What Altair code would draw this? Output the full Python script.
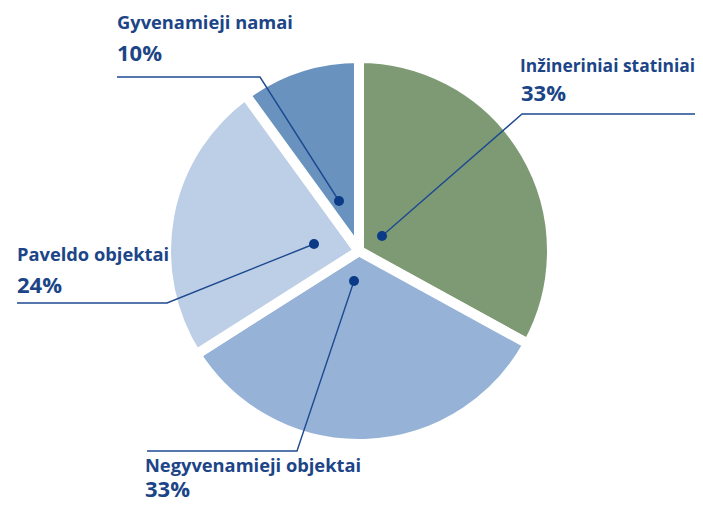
import altair as alt
import pandas as pd

# ---- data ----
labels = ["Inžineriniai statiniai", "Negyvenamieji objektai", "Paveldo objektai", "Gyvenamieji namai"]
shares = [33, 33, 24, 10]
pct_text = ["33%", "33%", "24%", "10%"]
colors = ["#7E9A74", "#96B3D7", "#BDCFE6", "#6A92BF"]

# ---- layout (page pixels) ----
OFF = 8
W, H = 687, 495
CX, CY, R = 359, 251, 193
name_pos = [(520, 72), (145, 472), (17, 261), (117, 29)]
name_size = [17.4, 18.3, 18.3, 18.3]
pct_pos = [(521, 101), (145, 497), (17, 293), (117, 61)]
leaders = [
    [(703, 114), (522, 114), (382, 236)],
    [(147, 451), (297, 451), (354, 281)],
    [(17, 303), (167, 303), (314, 244)],
    [(117, 77), (260, 77), (339, 201)],
]
TEXT_C = "#1C4587"
LINE_C = "#1D4A91"
FONT = "Open Sans"

pie_df = pd.DataFrame({"label": labels, "value": shares, "idx": list(range(len(labels)))})

text_rows = []
for i, lab in enumerate(labels):
    text_rows.append({"t": lab, "px": name_pos[i][0] - OFF, "py": name_pos[i][1] - OFF,
                      "kind": "name", "fs": name_size[i]})
    text_rows.append({"t": pct_text[i], "px": pct_pos[i][0] - OFF, "py": pct_pos[i][1] - OFF,
                      "kind": "pct", "fs": 22})
text_df = pd.DataFrame(text_rows)

line_rows = []
for i, pts in enumerate(leaders):
    for j, (x, y) in enumerate(pts):
        line_rows.append({"label": labels[i], "o": j, "px": x - OFF, "py": y - OFF})
line_df = pd.DataFrame(line_rows)
dot_df = line_df[line_df["o"] == 2]

pie = alt.Chart(pie_df).mark_arc(
    outerRadius=R, stroke="white", strokeWidth=10, strokeJoin="bevel"
).encode(
    theta=alt.Theta("value:Q", stack=True),
    order=alt.Order("idx:Q"),
    color=alt.Color("label:N", scale=alt.Scale(domain=labels, range=colors), legend=None),
    x=alt.value(CX - OFF),
    y=alt.value(CY - OFF),
)

xs = alt.X("px:Q", scale=None, axis=None)
ys = alt.Y("py:Q", scale=None, axis=None)

lines = alt.Chart(line_df).mark_line(color=LINE_C, strokeWidth=1.4).encode(
    x=xs, y=ys, detail="label:N", order="o:Q"
)
dots = alt.Chart(dot_df).mark_circle(color="#0B3A86", opacity=1, size=100).encode(x=xs, y=ys)

texts = alt.Chart(text_df).mark_text(
    align="left", baseline="alphabetic", font=FONT, fontWeight="bold", color=TEXT_C
).encode(x=xs, y=ys, text="t:N", size=alt.Size("fs:Q", scale=None, legend=None))

chart = alt.layer(pie, lines, dots, texts).properties(
    width=W, height=H, padding=0, autosize="none"
).configure_view(stroke=None)

chart.save("out.html", embed_options={"renderer": "svg", "actions": False})
